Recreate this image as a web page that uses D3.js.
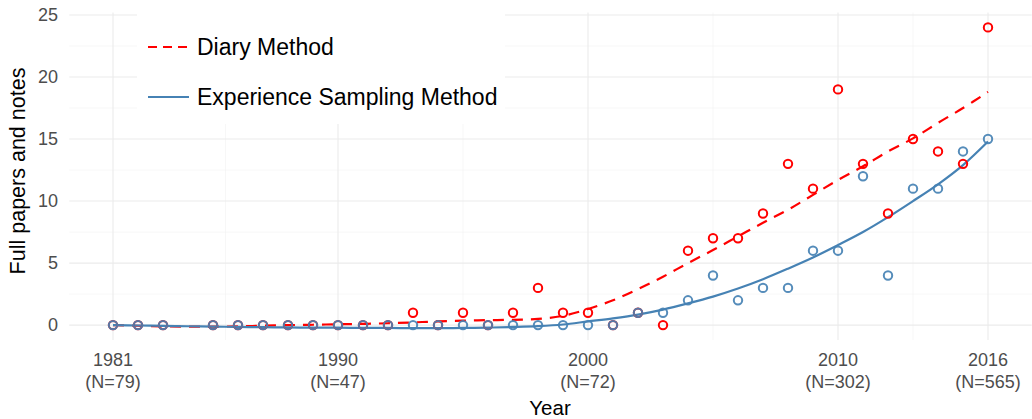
<!doctype html>
<html>
<head>
<meta charset="utf-8">
<script src="https://d3js.org/d3.v7.min.js"></script>
<style>
  body { margin: 0; background: #fff; font-family: "Liberation Sans", Arial, sans-serif; }
</style>
</head>
<body>
<div id="chart"></div>
<script>
// observed counts per year (1984 has no entry)
var years = [1981,1982,1983,1985,1986,1987,1988,1989,1990,1991,1992,1993,1994,1995,1996,1997,1998,1999,2000,2001,2002,2003,2004,2005,2006,2007,2008,2009,2010,2011,2012,2013,2014,2015,2016]
var diary = [0,0,0,0,0,0,0,0,0,0,0,1,0,1,0,1,3,1,1,0,1,0,6,7,7,9,13,11,19,13,9,15,14,13,24]
var esm   = [0,0,0,0,0,0,0,0,0,0,0,0,0,0,0,0,0,0,0,0,1,1,2,4,2,3,3,6,6,12,4,11,11,14,15]

// smoothed trend lines
var fitYears = d3.range(1981, 2017)
var diaryFit = [0,-0.05,-0.1,-0.12,-0.12,-0.1,-0.05,0,0.03,0.07,0.1,0.15,0.22,0.3,0.36,0.4,0.43,0.5,0.75,1.3,2.0,2.9,3.9,5.0,6.05,7.15,8.25,9.3,10.5,11.7,12.8,14.0,15.05,16.3,17.5,18.8]
var esmFit   = [0,-0.03,-0.06,-0.09,-0.12,-0.15,-0.17,-0.19,-0.2,-0.21,-0.22,-0.23,-0.24,-0.24,-0.23,-0.2,-0.15,-0.08,0.05,0.3,0.55,0.85,1.25,1.75,2.3,2.95,3.7,4.55,5.45,6.45,7.5,8.7,10.0,11.35,12.9,14.8]

// axis labels
var xBreaks = [1981, 1990, 2000, 2010, 2016]
var xCounts = [79, 47, 72, 302, 565]
var xMinor = [1985.5, 1995, 2005, 2013]
var yBreaks = [0, 5, 10, 15, 20, 25]
var yMinor = [2.5, 7.5, 12.5, 17.5, 22.5]

var width = 1032, height = 419
var panelL = 69.25, panelR = 1031.75, panelT = 12.5, panelB = 340

var svg = d3.select("#chart").append("svg")
    .attr("width", width)
    .attr("height", height)

var x = d3.scaleLinear().domain([1979.25, 2017.75]).range([panelL, panelR])
var y = d3.scaleLinear().domain([-1.2, 25.2]).range([panelB, panelT])

// grid
var grid = svg.append("g")
grid.selectAll(".ymin").data(yMinor).enter().append("line")
    .attr("x1", panelL).attr("x2", panelR)
    .attr("y1", d => y(d)).attr("y2", d => y(d))
    .attr("stroke", "#f2f2f2").attr("stroke-width", 0.6)
grid.selectAll(".xmin").data(xMinor).enter().append("line")
    .attr("y1", panelT).attr("y2", panelB)
    .attr("x1", d => x(d)).attr("x2", d => x(d))
    .attr("stroke", "#f2f2f2").attr("stroke-width", 0.6)
grid.selectAll(".ymaj").data(yBreaks).enter().append("line")
    .attr("x1", panelL).attr("x2", panelR)
    .attr("y1", d => y(d)).attr("y2", d => y(d))
    .attr("stroke", "#ebebeb").attr("stroke-width", 1.1)
grid.selectAll(".xmaj").data(xBreaks).enter().append("line")
    .attr("y1", panelT).attr("y2", panelB)
    .attr("x1", d => x(d)).attr("x2", d => x(d))
    .attr("stroke", "#ebebeb").attr("stroke-width", 1.1)

// y axis tick labels
svg.selectAll(".ylab").data(yBreaks).enter().append("text")
    .attr("x", 58).attr("y", d => y(d))
    .attr("dy", "0.35em")
    .attr("text-anchor", "end")
    .attr("font-size", 18)
    .attr("fill", "#4d4d4d")
    .text(d => d)

// x axis tick labels, two lines each
var xl = svg.selectAll(".xlab").data(xBreaks).enter().append("text")
    .attr("text-anchor", "middle")
    .attr("font-size", 18)
    .attr("fill", "#4d4d4d")
xl.append("tspan").attr("x", d => x(d)).attr("y", 366).text(d => d)
xl.append("tspan").attr("x", d => x(d)).attr("y", 388).text((d, i) => "(N=" + xCounts[i] + ")")

// axis titles
svg.append("text")
    .attr("x", 550).attr("y", 415)
    .attr("text-anchor", "middle")
    .attr("font-size", 20.5)
    .text("Year")
svg.append("text")
    .attr("transform", "translate(25,171) rotate(-90)")
    .attr("text-anchor", "middle")
    .attr("font-size", 21.5)
    .text("Full papers and notes")

// trend lines
var line = d3.line()
    .x((d, i) => x(fitYears[i]))
    .y(d => y(d))
    .curve(d3.curveCatmullRom)

svg.append("path").datum(diaryFit)
    .attr("d", line)
    .attr("fill", "none")
    .attr("stroke", "#ff0000")
    .attr("stroke-width", 2.2)
    .attr("stroke-dasharray", "11,8")
svg.append("path").datum(esmFit)
    .attr("d", line)
    .attr("fill", "none")
    .attr("stroke", "steelblue")
    .attr("stroke-width", 2.2)

// points
svg.selectAll(".pd").data(diary).enter().append("circle")
    .attr("cx", (d, i) => x(years[i]))
    .attr("cy", d => y(d))
    .attr("r", 4.2)
    .attr("fill", "none")
    .attr("stroke", "#ff0000")
    .attr("stroke-width", 2)
svg.selectAll(".pe").data(esm).enter().append("circle")
    .attr("cx", (d, i) => x(years[i]))
    .attr("cy", d => y(d))
    .attr("r", 4.2)
    .attr("fill", "none")
    .attr("stroke", "steelblue")
    .attr("stroke-opacity", 0.92)
    .attr("stroke-width", 2)

// legend
var legend = svg.append("g")
legend.append("rect")
    .attr("x", 137).attr("y", 0)
    .attr("width", 368).attr("height", 124)
    .attr("fill", "#fff")
var keys = [
  {label: "Diary Method", color: "#ff0000", dash: "9,6"},
  {label: "Experience Sampling Method", color: "steelblue", dash: null}
]
keys.forEach(function(k, i) {
  var ky = 47 + i * 50
  legend.append("line")
    .attr("x1", 148).attr("x2", 189)
    .attr("y1", ky).attr("y2", ky)
    .attr("stroke", k.color)
    .attr("stroke-width", 2.2)
    .attr("stroke-dasharray", k.dash)
  legend.append("text")
    .attr("x", 197).attr("y", ky)
    .attr("dy", "0.35em")
    .attr("font-size", 23)
    .text(k.label)
})
</script>
</body>
</html>
